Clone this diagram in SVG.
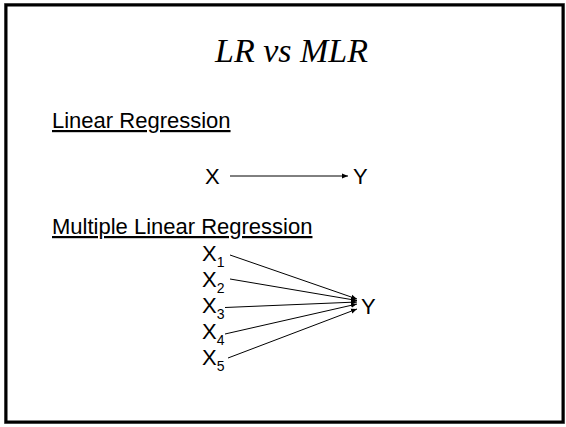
<svg xmlns="http://www.w3.org/2000/svg" width="566" height="427" viewBox="0 0 566 427">
<style>
.t{font-family:"Liberation Sans",Arial,sans-serif;font-size:22px;fill:#000}
.s{font-size:14px}
.title{font-family:"Liberation Serif","Times New Roman",serif;font-style:italic;font-size:34px;fill:#000}
.c{stroke:#000;stroke-width:1;fill:none}
</style>
<defs>
<marker id="ah" markerWidth="6" markerHeight="6" refX="6" refY="3" orient="auto" markerUnits="userSpaceOnUse">
<path d="M0,0.5 L6,3 L0,5.5 Z" fill="#000"/>
</marker>
</defs>
<rect x="0" y="0" width="566" height="427" fill="#fff"/>
<rect x="4.5" y="3.5" width="560" height="420" fill="none" stroke="#888" stroke-width="1"/>
<rect x="6" y="5" width="557" height="417" fill="none" stroke="#000" stroke-width="3"/>
<text id="title" class="title" x="291.5" y="62" text-anchor="middle">LR vs MLR</text>
<g id="lr-heading"><text class="t" x="52" y="128" text-decoration="underline">Linear Regression</text></g>
<g id="lr-x"><text class="t" x="205" y="184">X</text></g>
<g id="lr-y"><text class="t" x="353" y="184">Y</text></g>
<g id="mlr-heading"><text class="t" x="52" y="234" text-decoration="underline">Multiple Linear Regression</text></g>
<g id="x1"><text class="t" x="202" y="261">X<tspan class="s" dy="6">1</tspan></text></g>
<g id="x2"><text class="t" x="202" y="287">X<tspan class="s" dy="6">2</tspan></text></g>
<g id="x3"><text class="t" x="202" y="313">X<tspan class="s" dy="6">3</tspan></text></g>
<g id="x4"><text class="t" x="202" y="339">X<tspan class="s" dy="6">4</tspan></text></g>
<g id="x5"><text class="t" x="202" y="365">X<tspan class="s" dy="6">5</tspan></text></g>
<g id="mlr-y"><text class="t" x="361" y="314">Y</text></g>
<g id="connectors">
<line class="c" x1="230" y1="176" x2="348" y2="176" marker-end="url(#ah)"/>
<line class="c" x1="230" y1="255" x2="357" y2="299" marker-end="url(#ah)"/>
<line class="c" x1="230" y1="279" x2="357" y2="300.5" marker-end="url(#ah)"/>
<line class="c" x1="225" y1="307.5" x2="357" y2="302" marker-end="url(#ah)"/>
<line class="c" x1="225" y1="334" x2="357" y2="304" marker-end="url(#ah)"/>
<line class="c" x1="228" y1="358" x2="357" y2="309" marker-end="url(#ah)"/>
</g>
</svg>
